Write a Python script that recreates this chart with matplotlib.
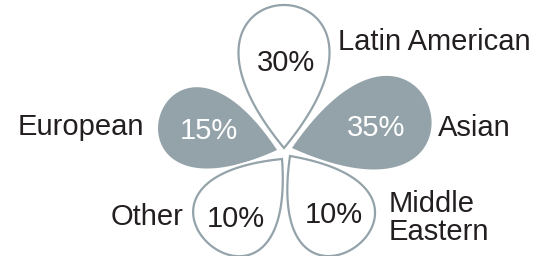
import numpy as np
import matplotlib
matplotlib.use("Agg")
import matplotlib.pyplot as plt
import matplotlib.patheffects as pe

plt.rcParams['font.family'] = ['Liberation Sans', 'DejaVu Sans']

# data
categories = ["Latin American", "Asian", "Middle\nEastern", "Other", "European"]
shares = [30, 35, 10, 10, 15]
filled = [False, True, False, False, True]

# layout (pixel coords, y down): petal tip, angle (deg, math), length, width
tips = [(284, 148), (292, 148), (290, 156), (282, 159), (277, 150)]
angles = [90, 15.6, -54, -130, 164]
lengths = [143, 143, 112, 112, 122]
widths = [91, 92, 84, 84, 80]
pct_pos = [(286, 63), (376, 128), (334, 215), (236, 219), (209, 131)]
lab_pos = [(338, 42), (438, 128), (389, 218), (184, 217), (144, 127)]
lab_ha = ["left", "left", "left", "right", "right"]

gray = "#94a3aa"
dark = "#231f20"


def petal(tip, ang, L, W):
    t = np.linspace(0, 2 * np.pi, 400)
    u = (1 - np.cos(t)) / 2 * L
    v = np.sin(t) * np.sin(t / 2) * W / (2 * 0.7698)
    a = np.radians(ang)
    x = tip[0] + u * np.cos(a) - v * np.sin(a)
    y = tip[1] - (u * np.sin(a) + v * np.cos(a))
    return x, y


fig = plt.figure(figsize=(5.44, 2.56), dpi=100)
ax = fig.add_axes([0, 0, 1, 1])
ax.set_xlim(0, 544)
ax.set_ylim(256, 0)
ax.axis("off")

# filled petals first, outlined ones on top with a white halo
order = [i for i in range(5) if filled[i]] + [i for i in range(5) if not filled[i]]
for i in order:
    x, y = petal(tips[i], angles[i], lengths[i], widths[i])
    if filled[i]:
        ax.fill(x, y, color=gray, lw=0, zorder=1)
    else:
        ax.fill(x, y, facecolor="white", edgecolor=gray, lw=1.6, zorder=2,
                path_effects=[pe.Stroke(linewidth=4.5, foreground="white"), pe.Normal()])

for i in range(5):
    ax.text(pct_pos[i][0], pct_pos[i][1], f"{shares[i]}%", ha="center", va="center",
            fontsize=21, color="white" if filled[i] else dark, zorder=3)
    ax.text(lab_pos[i][0], lab_pos[i][1], categories[i], ha=lab_ha[i], va="center",
            fontsize=21, color=dark, linespacing=1.0, zorder=3)

fig.savefig("out.png", dpi=100)
